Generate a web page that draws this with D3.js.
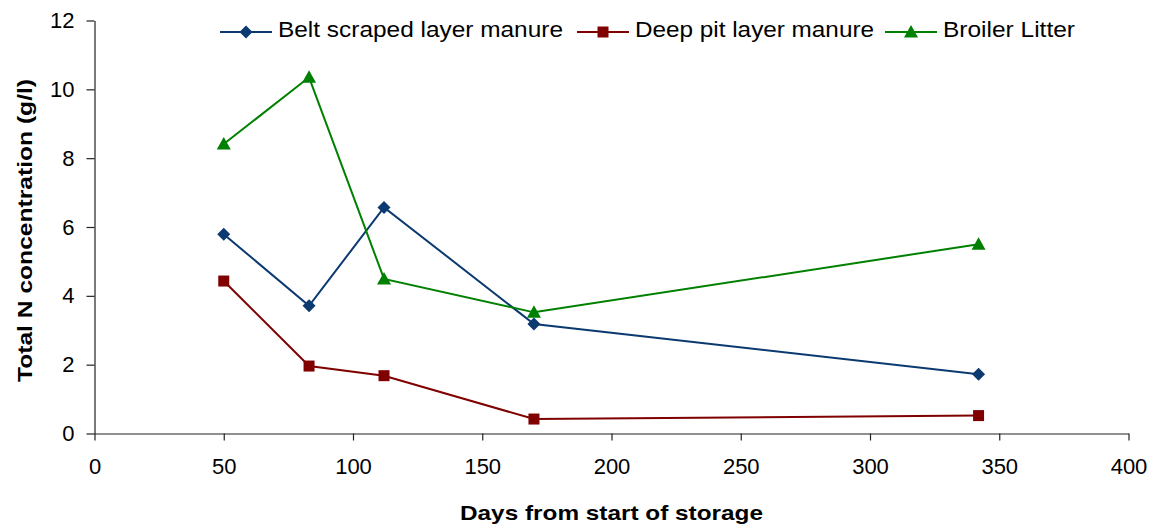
<!DOCTYPE html>
<html><head><meta charset="utf-8">
<script src="https://cdn.jsdelivr.net/npm/d3@7"></script>
<style>body{margin:0;background:#fff}svg{display:block;font-family:"Liberation Sans",Arial,sans-serif}</style>
</head><body><svg id="c" width="1159" height="529"></svg>
<script>
const days = [50, 83, 112, 170, 342];
const belt = [5.79, 3.71, 6.57, 3.18, 1.72];
const deep = [4.43, 1.96, 1.68, 0.42, 0.52];
const broiler = [8.41, 10.35, 4.49, 3.52, 5.50];
const seriesNames = ["Belt scraped layer manure", "Deep pit layer manure", "Broiler Litter"];
const xTicks = [0, 50, 100, 150, 200, 250, 300, 350, 400];
const yTicks = [0, 2, 4, 6, 8, 10, 12];

const svg = d3.select("#c");
const x = d3.scaleLinear().domain([0, 400]).range([94.5, 1128.5]);
const y = d3.scaleLinear().domain([0, 12]).range([433.5, 20.5]);
const axisColor = "#222";

const gx = svg.append("g").attr("transform", "translate(0,433.5)")
  .call(d3.axisBottom(x).tickValues(xTicks).tickSize(7).tickPadding(18).tickSizeOuter(0));
const gy = svg.append("g").attr("transform", "translate(94.5,0)")
  .call(d3.axisLeft(y).tickValues(yTicks).tickSize(8).tickPadding(12).tickSizeOuter(0));
[gx, gy].forEach(g => {
  g.selectAll("path,line").attr("stroke", axisColor).attr("stroke-width", 1.2);
  g.selectAll("text").attr("font-size", 22).attr("fill", "#000").attr("font-family", "Liberation Sans, Arial, sans-serif");
});

const series = [
  {name: seriesNames[0], vals: belt, color: "#0b3a70", shape: "diamond", w: 285},
  {name: seriesNames[1], vals: deep, color: "#800000", shape: "square", w: 239},
  {name: seriesNames[2], vals: broiler, color: "#008000", shape: "triangle", w: 132}
];
function marker(g, shape, color, cx, cy) {
  if (shape === "diamond") g.append("path").attr("d", `M${cx},${cy-6.5}L${cx+6.5},${cy}L${cx},${cy+6.5}L${cx-6.5},${cy}Z`).attr("fill", color);
  else if (shape === "square") g.append("rect").attr("x", cx-5.5).attr("y", cy-5.5).attr("width", 11).attr("height", 11).attr("fill", color);
  else g.append("path").attr("d", `M${cx},${cy-7}L${cx+7},${cy+5.5}L${cx-7},${cy+5.5}Z`).attr("fill", color);
}
const line = d3.line().x((d, i) => x(days[i])).y(d => y(d));
series.forEach(s => {
  svg.append("path").datum(s.vals).attr("d", line).attr("fill", "none").attr("stroke", s.color).attr("stroke-width", 2);
  const g = svg.append("g");
  s.vals.forEach((v, i) => marker(g, s.shape, s.color, x(days[i]), y(v)));
});

// legend
const legX = [220, 577, 885];
series.forEach((s, i) => {
  const lg = svg.append("g");
  lg.append("line").attr("x1", legX[i]).attr("x2", legX[i] + 52).attr("y1", 32).attr("y2", 32).attr("stroke", s.color).attr("stroke-width", 2);
  marker(lg, s.shape, s.color, legX[i] + 26, 32);
  lg.append("text").attr("x", legX[i] + 58).attr("y", 37).attr("font-size", 22.5).attr("fill", "#000")
    .attr("textLength", s.w).attr("lengthAdjust", "spacingAndGlyphs").text(s.name);
});

svg.append("text").attr("x", 460).attr("y", 520).attr("font-size", 21).attr("font-weight", "bold")
  .attr("textLength", 303).attr("lengthAdjust", "spacingAndGlyphs").text("Days from start of storage");
svg.append("text").attr("transform", "translate(32,382) rotate(-90)").attr("font-size", 21).attr("font-weight", "bold")
  .attr("textLength", 303).attr("lengthAdjust", "spacingAndGlyphs").text("Total N concentration (g/l)");
</script></body></html>
